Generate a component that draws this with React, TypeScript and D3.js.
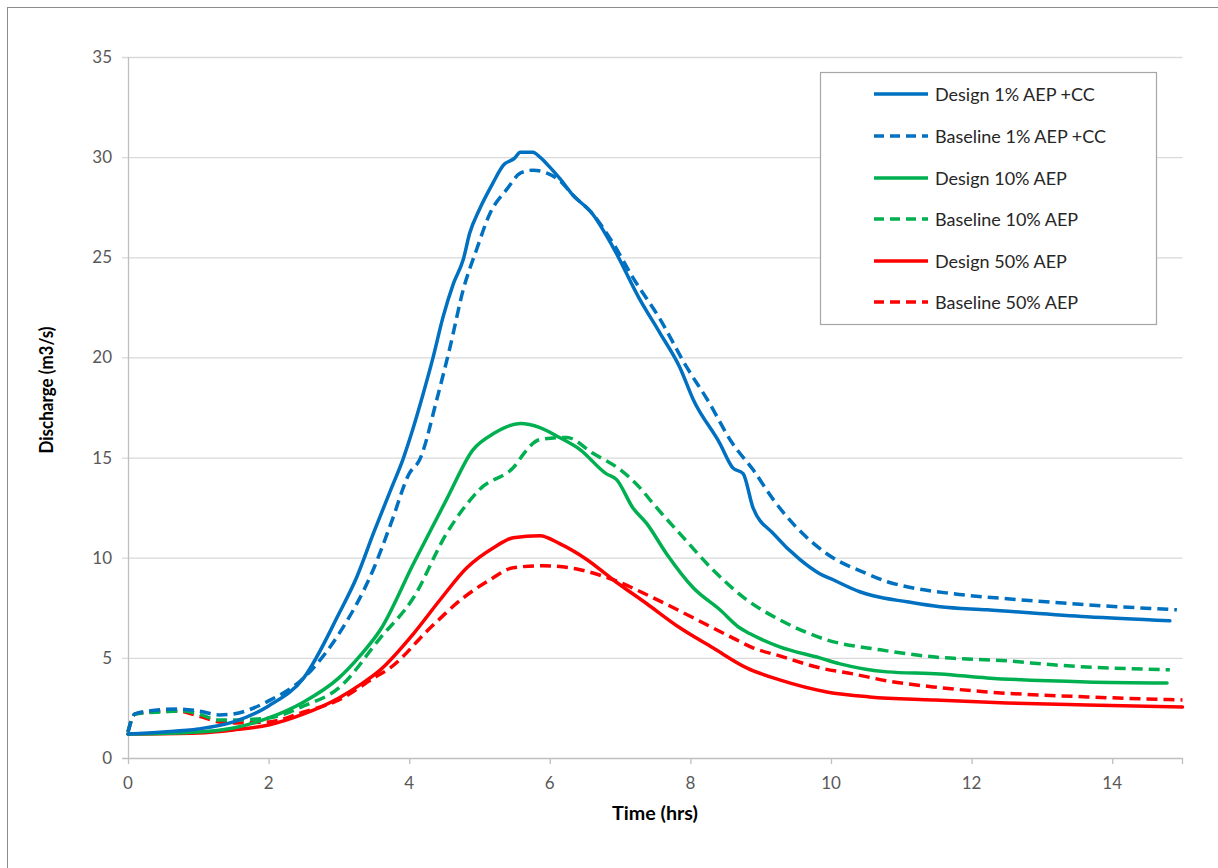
import React from "react";
import * as d3 from "d3";

const xTicks = [0, 2, 4, 6, 8, 10, 12, 14];
const yTicks = [0, 5, 10, 15, 20, 25, 30, 35];

const designCCTime = [0, 0.5, 1.0, 1.5, 2.0, 2.5, 3.0, 3.25, 3.5, 3.75, 3.91, 4.05, 4.2, 4.34, 4.48, 4.63, 4.77, 4.86, 5.0, 5.19, 5.34, 5.5, 5.58, 5.76, 5.86, 6.0, 6.15, 6.33, 6.6, 6.9, 7.28, 7.57, 7.85, 8.04, 8.42, 8.6, 8.75, 8.89, 9.18, 9.56, 9.84, 10.03, 10.41, 10.6, 11.08, 11.55, 12.22, 13.64, 14.82];
const designCCValues = [1.2, 1.3, 1.45, 1.8, 2.6, 4.0, 7.2, 9.0, 11.3, 13.5, 14.9, 16.4, 18.2, 20.0, 22.0, 23.7, 24.9, 26.2, 27.4, 28.7, 29.6, 29.95, 30.25, 30.25, 30.0, 29.5, 28.9, 28.1, 27.2, 25.5, 22.9, 21.2, 19.5, 17.9, 15.7, 14.5, 14.2, 12.5, 11.2, 9.9, 9.2, 8.9, 8.3, 8.1, 7.8, 7.55, 7.4, 7.05, 6.85];

const baseCCTime = [0, 0.1, 0.3, 0.7, 1.0, 1.3, 1.5, 2.0, 2.5, 3.0, 3.5, 3.75, 4.0, 4.15, 4.4, 4.58, 4.77, 4.96, 5.15, 5.39, 5.58, 5.76, 5.96, 6.15, 6.33, 6.6, 6.9, 7.18, 7.57, 7.95, 8.24, 8.6, 8.89, 9.18, 9.46, 9.94, 10.51, 10.8, 11.08, 11.74, 12.69, 13.64, 14.92];
const baseCCValues = [1.3, 2.2, 2.35, 2.45, 2.35, 2.15, 2.2, 2.85, 4.0, 6.2, 9.5, 11.8, 14.2, 14.9, 18.0, 20.5, 23.4, 25.4, 27.2, 28.4, 29.2, 29.35, 29.2, 28.8, 28.1, 27.2, 25.7, 24.0, 21.9, 19.5, 17.9, 15.7, 14.4, 12.9, 11.7, 10.2, 9.2, 8.8, 8.55, 8.2, 7.9, 7.65, 7.4];

const design10Time = [0, 1.0, 1.5, 2.0, 2.5, 3.0, 3.3, 3.59, 4.06, 4.53, 4.91, 5.2, 5.58, 5.86, 6.14, 6.43, 6.8, 6.95, 7.18, 7.38, 7.66, 8.04, 8.42, 8.7, 8.85, 9.27, 9.84, 10.13, 10.8, 11.55, 12.22, 13.64, 14.78];
const design10Values = [1.2, 1.3, 1.5, 2.0, 2.8, 4.0, 5.1, 6.4, 9.7, 12.9, 15.4, 16.2, 16.7, 16.5, 16.0, 15.4, 14.2, 13.9, 12.5, 11.7, 10.2, 8.5, 7.4, 6.5, 6.2, 5.55, 5.0, 4.7, 4.3, 4.2, 4.0, 3.8, 3.75];

const base10Time = [0, 0.1, 0.5, 0.8, 1.0, 1.3, 1.5, 2.0, 2.5, 3.0, 3.59, 4.06, 4.53, 5.0, 5.53, 5.63, 5.86, 6.24, 6.62, 7.0, 7.28, 7.47, 7.85, 8.32, 8.8, 9.27, 9.94, 10.7, 11.45, 12.5, 13.16, 14.82];
const base10Values = [1.3, 2.2, 2.3, 2.35, 2.2, 1.9, 1.9, 2.0, 2.6, 3.5, 6.0, 8.0, 11.2, 13.4, 14.7, 15.2, 15.9, 16.0, 15.2, 14.4, 13.5, 12.7, 11.2, 9.4, 7.9, 6.9, 5.9, 5.4, 5.05, 4.85, 4.65, 4.4];

const design50Time = [0, 1.0, 1.5, 2.0, 2.5, 3.0, 3.3, 3.59, 4.06, 4.44, 4.82, 5.2, 5.48, 5.86, 6.14, 6.53, 6.9, 7.38, 7.85, 8.32, 8.8, 9.27, 9.94, 10.55, 11.45, 12.5, 13.64, 15.0];
const design50Values = [1.2, 1.25, 1.4, 1.65, 2.2, 3.0, 3.65, 4.4, 6.2, 7.9, 9.5, 10.5, 11.0, 11.1, 10.7, 9.9, 8.9, 7.7, 6.5, 5.5, 4.5, 3.9, 3.3, 3.05, 2.9, 2.75, 2.65, 2.55];

const base50Time = [0, 0.1, 0.3, 0.7, 1.0, 1.3, 1.5, 2.0, 2.5, 3.0, 3.5, 3.73, 4.3, 4.77, 5.15, 5.48, 5.9, 6.43, 6.9, 7.47, 8.04, 8.6, 8.89, 9.27, 9.84, 10.31, 10.8, 11.45, 12.22, 13.64, 15.0];
const base50Values = [1.3, 2.2, 2.3, 2.35, 2.1, 1.8, 1.75, 1.8, 2.3, 2.9, 4.0, 4.5, 6.5, 8.0, 8.9, 9.5, 9.6, 9.4, 8.9, 8.0, 7.0, 6.0, 5.5, 5.1, 4.5, 4.2, 3.85, 3.55, 3.3, 3.05, 2.9];

const seriesNames = ["Design 1% AEP +CC", "Baseline 1% AEP +CC", "Design 10% AEP", "Baseline 10% AEP", "Design 50% AEP", "Baseline 50% AEP"];
const seriesColors = ["#0070C0", "#0070C0", "#00B050", "#00B050", "#FF0000", "#FF0000"];
const seriesDashed = [false, true, false, true, false, true];
const seriesTimes = [designCCTime, baseCCTime, design10Time, base10Time, design50Time, base50Time];
const seriesValues = [designCCValues, baseCCValues, design10Values, base10Values, design50Values, base50Values];

const FONT = "Lato, 'Open Sans', sans-serif";

export default function App() {
  const W = 1218, H = 868;
  const left = 128, right = 1182.5, top = 57, bottom = 758;
  const x = d3.scaleLinear().domain([0, 15]).range([left, right]);
  const y = d3.scaleLinear().domain([0, 35]).range([bottom, top]);

  const line = d3.line<[number, number]>()
    .x(d => x(d[0]))
    .y(d => y(d[1]))
    .curve(d3.curveMonotoneX);

  const legX = 820, legY = 72, legW = 336, legH = 252;
  const rowY = [94, 136, 178, 219, 261, 302];

  return (
    <svg width={W} height={H} style={{ position: "absolute", left: 0, top: 0, background: "#fff" }}>
      <rect x={7.5} y={7.5} width={W + 20} height={H + 20} fill="#fff" stroke="#8C8C8C" strokeWidth={1} />
      {yTicks.filter(t => t > 0).map(t => (
        <line key={"g" + t} x1={left - 6} x2={right} y1={y(t) + 0.5} y2={y(t) + 0.5} stroke="#D9D9D9" strokeWidth={1.3} />
      ))}
      <line x1={left - 6} x2={right} y1={bottom + 0.5} y2={bottom + 0.5} stroke="#BFBFBF" strokeWidth={1.3} />
      <line x1={left + 0.5} x2={left + 0.5} y1={top} y2={bottom} stroke="#BFBFBF" strokeWidth={1.3} />
      {xTicks.map(t => (
        <line key={"xt" + t} x1={x(t) + 0.5} x2={x(t) + 0.5} y1={bottom} y2={bottom + 6} stroke="#BFBFBF" strokeWidth={1.3} />
      ))}
      <line x1={right} x2={right} y1={bottom} y2={bottom + 6} stroke="#BFBFBF" strokeWidth={1.3} />
      {yTicks.map(t => (
        <text key={"yl" + t} x={left - 16} y={y(t) + 6} textAnchor="end" fontFamily={FONT} fontSize={17} fill="#595959">{t}</text>
      ))}
      {xTicks.map(t => (
        <text key={"xl" + t} x={x(t)} y={bottom + 31} textAnchor="middle" fontFamily={FONT} fontSize={17} fill="#595959">{t}</text>
      ))}
      <text x={655} y={820} textAnchor="middle" fontFamily={FONT} fontSize={18} fontWeight="bold" fill="#000"
        textLength={86} lengthAdjust="spacingAndGlyphs">Time (hrs)</text>
      <text transform={`translate(53, 390) rotate(-90)`} textAnchor="middle" fontFamily={FONT} fontSize={18} fontWeight="bold" fill="#000"
        textLength={127} lengthAdjust="spacingAndGlyphs">Discharge (m3/s)</text>

      {seriesNames.map((name, i) => {
        const pts = seriesTimes[i].map((t, j) => [t, seriesValues[i][j]] as [number, number]);
        return (
          <path key={"s" + i} d={line(pts) || ""} fill="none" stroke={seriesColors[i]} strokeWidth={3.5}
            strokeDasharray={seriesDashed[i] ? "11 6" : undefined} strokeLinejoin="round" strokeLinecap={seriesDashed[i] ? "butt" : "round"} />
        );
      }).reverse()}

      <rect x={legX + 0.5} y={legY + 0.5} width={legW} height={legH} fill="#fff" stroke="#A6A6A6" strokeWidth={1.2} />
      {seriesNames.map((name, i) => (
        <g key={"l" + i}>
          <line x1={874} x2={928} y1={rowY[i]} y2={rowY[i]} stroke={seriesColors[i]} strokeWidth={3.5}
            strokeDasharray={seriesDashed[i] ? "10 6" : undefined} />
          <text x={935} y={rowY[i] + 6.5} fontFamily={FONT} fontSize={18} fill="#262626">{name}</text>
        </g>
      ))}
    </svg>
  );
}
